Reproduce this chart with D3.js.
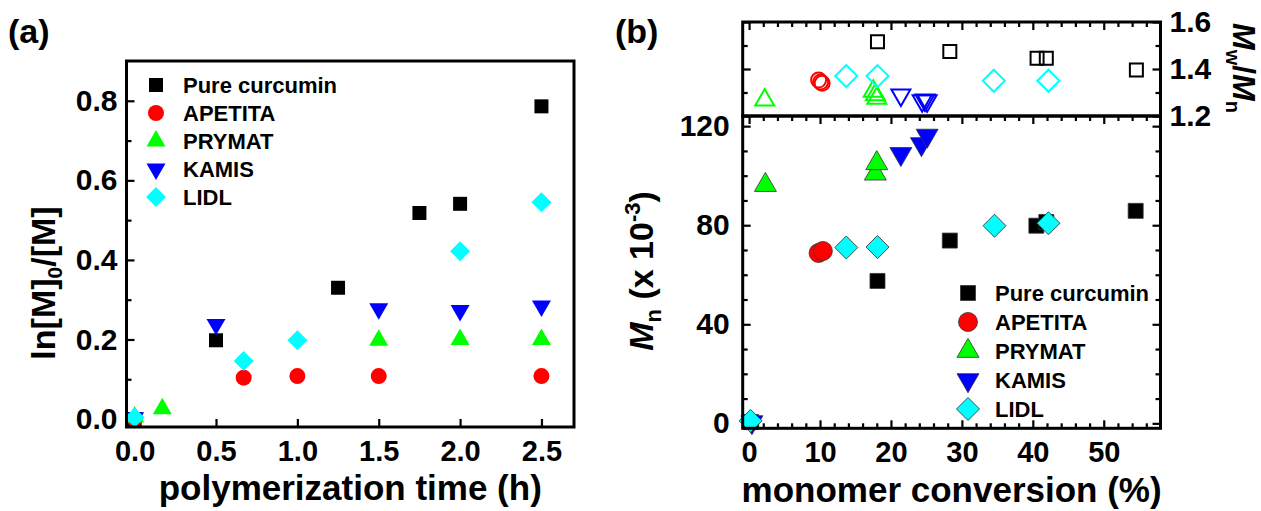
<!DOCTYPE html>
<html>
<head>
<meta charset="utf-8">
<script src="https://cdn.jsdelivr.net/npm/d3@7"></script>
<style>
  body { margin: 0; background: #fff; }
  svg { font-family: "Liberation Sans", Arial, sans-serif; font-weight: bold; }
</style>
</head>
<body>
<svg width="1261" height="511"></svg>
<script>
const names = ["Pure curcumin", "APETITA", "PRYMAT", "KAMIS", "LIDL"];
const colors = ["#000000", "#ff0000", "#00ff00", "#0000ff", "#00ffff"];
const shapes = ["square", "circle", "triangle", "down", "diamond"];

// (a) ln([M]0/[M]) vs polymerization time (h)
const timeCurcumin = [0, 0.5, 1.25, 1.75, 2.0, 2.5];
const lnCurcumin = [0.0, 0.198, 0.33, 0.518, 0.541, 0.786];
const timeApetita = [0, 0.67, 1.0, 1.5, 2.5];
const lnApetita = [0.0, 0.104, 0.108, 0.108, 0.108];
const timePrymat = [0, 0.17, 1.5, 2.0, 2.5];
const lnPrymat = [0.005, 0.026, 0.198, 0.2, 0.2];
const timeKamis = [0, 0.5, 1.5, 2.0, 2.5];
const lnKamis = [0.003, 0.238, 0.277, 0.273, 0.284];
const timeLidl = [0, 0.67, 1.0, 2.0, 2.5];
const lnLidl = [0.004, 0.146, 0.198, 0.422, 0.545];

// (b) Mn (x 10^-3) vs monomer conversion (%)
const convCurcumin = [0.3, 18.1, 28.3, 40.5, 41.9, 54.5];
const mnCurcumin = [0.5, 57.5, 73.8, 79.8, 81.3, 85.8];
const convApetita = [9.8, 10.4];
const mnApetita = [68.8, 69.6];
const convPrymat = [2.3, 17.8, 18.0];
const mnPrymat = [96.2, 100.8, 105.0];
const convKamis = [0.4, 21.4, 24.3, 25.1];
const mnKamis = [0.5, 108.8, 112.8, 116.2];
const convLidl = [0.2, 13.7, 18.1, 34.6, 42.2];
const mnLidl = [1.0, 71.0, 71.2, 79.8, 80.8];

// (b, top) Mw/Mn vs monomer conversion (%)
const pdiConvCurcumin = [18.1, 28.3, 40.6, 41.9, 54.6];
const pdiCurcumin = [1.516, 1.474, 1.446, 1.446, 1.396];
const pdiConvApetita = [9.8, 10.1, 10.3];
const pdiApetita = [1.353, 1.345, 1.339];
const pdiConvPrymat = [2.2, 17.5, 17.8, 18.0];
const pdiPrymat = [1.268, 1.305, 1.29, 1.275];
const pdiConvKamis = [21.4, 24.4, 24.8, 25.1];
const pdiKamis = [1.289, 1.265, 1.268, 1.265];
const pdiConvLidl = [13.7, 18.1, 34.5, 42.2];
const pdiLidl = [1.37, 1.37, 1.35, 1.35];

const xTicksA = [0, 0.5, 1.0, 1.5, 2.0, 2.5];
const yTicksA = [0, 0.2, 0.4, 0.6, 0.8];
const yMinorA = [0.1, 0.3, 0.5, 0.7];
const xTicksB = [0, 10, 20, 30, 40, 50];
const xMinorB = d3.range(2, 58, 2).filter(d => d % 10 !== 0);
const yTicksB = [0, 40, 80, 120];
const yMinorB = [10, 20, 30, 50, 60, 70, 90, 100, 110];
const yTicksT = [1.2, 1.4, 1.6];
const yMinorT = [1.3, 1.5];

const zip = (xs, ys) => xs.map((x, i) => ({ x, y: ys[i] }));
const dataA = [zip(timeCurcumin, lnCurcumin), zip(timeApetita, lnApetita), zip(timePrymat, lnPrymat),
  zip(timeKamis, lnKamis), zip(timeLidl, lnLidl)];
const dataB = [zip(convCurcumin, mnCurcumin), zip(convApetita, mnApetita), zip(convPrymat, mnPrymat),
  zip(convKamis, mnKamis), zip(convLidl, mnLidl)];
const dataT = [zip(pdiConvCurcumin, pdiCurcumin), zip(pdiConvApetita, pdiApetita), zip(pdiConvPrymat, pdiPrymat),
  zip(pdiConvKamis, pdiKamis), zip(pdiConvLidl, pdiLidl)];

const svg = d3.select("svg");

function symPath(shape, s) {
  if (shape === "square") return d3.symbol(d3.symbolSquare, s * s)();
  if (shape === "circle") return d3.symbol(d3.symbolCircle, Math.PI * s * s / 4)();
  if (shape === "diamond") return d3.symbol(d3.symbolSquare, s * s / 2)();
  return d3.symbol(d3.symbolTriangle, Math.sqrt(3) / 4 * s * s)();
}
function symRot(shape) {
  return shape === "down" ? " rotate(180)" : shape === "diamond" ? " rotate(45)" : "";
}
const sizeA = { square: 14, circle: 16, triangle: 19, down: 19, diamond: 20 };
const sizeB = { square: 15, circle: 19, triangle: 22, down: 22, diamond: 23 };
const sizeT = { square: 13, circle: 15, triangle: 19, down: 19, diamond: 22 };

function drawAxis(g, axis, tx, ty, fontSize) {
  const a = g.append("g").attr("transform", `translate(${tx},${ty})`).call(axis);
  a.select(".domain").remove();
  a.selectAll("line").attr("stroke", "#000").attr("stroke-width", 2.2);
  a.selectAll("text").attr("fill", "#000").style("font-size", fontSize + "px")
    .style("font-family", "'Liberation Sans', Arial, sans-serif").style("font-weight", "bold");
  return a;
}

function drawPoints(g, data, xs, ys, sizes, style) {
  data.forEach((pts, i) => {
    g.append("g").selectAll("path").data(pts).join("path")
      .attr("d", symPath(shapes[i], sizes[shapes[i]]))
      .attr("transform", d => `translate(${xs(d.x)},${ys(d.y)})` + symRot(shapes[i]))
      .attr("fill", style === "open" ? "none" : colors[i])
      .attr("stroke", style === "open" ? colors[i] : style === "outline" ? "#333" : "none")
      .attr("stroke-width", style === "open" ? 2 : 0.8);
  });
}

function legend(g, x, y0, dy, sizes, style, fs) {
  names.forEach((n, i) => {
    const y = y0 + i * dy;
    g.append("path").attr("d", symPath(shapes[i], sizes[shapes[i]]))
      .attr("transform", `translate(${x},${y})` + symRot(shapes[i]))
      .attr("fill", colors[i])
      .attr("stroke", style === "outline" ? "#333" : "none").attr("stroke-width", 0.8);
    g.append("text").attr("x", x + 27).attr("y", y + 8).style("font-size", fs + "px").text(n);
  });
}

// ---------- panel (a) ----------
const xA = d3.scaleLinear().domain([-0.05, 2.7]).range([126.5, 574]);
const yA = d3.scaleLinear().domain([-0.02, 0.9]).range([427, 61]);
const ga = svg.append("g");

drawAxis(ga, d3.axisBottom(xA).tickValues(xTicksA).tickSize(-8).tickPadding(13).tickFormat(d3.format(".1f")), 0, yA.range()[0], 29);
drawAxis(ga, d3.axisLeft(yA).tickValues(yTicksA).tickSize(-8).tickPadding(9).tickFormat(d3.format(".1f")), xA.range()[0], 0, 30);
drawAxis(ga, d3.axisLeft(yA).tickValues(yMinorA).tickSize(-5).tickFormat(""), xA.range()[0], 0, 30);

drawPoints(ga, dataA, xA, yA, sizeA, "plain");

ga.append("rect").attr("x", xA.range()[0]).attr("y", yA.range()[1])
  .attr("width", xA.range()[1] - xA.range()[0]).attr("height", yA.range()[0] - yA.range()[1])
  .attr("fill", "none").attr("stroke", "#000").attr("stroke-width", 3);

legend(ga, 156, 85, 28, sizeA, "plain", 22);

ga.append("text").attr("x", (xA.range()[0] + xA.range()[1]) / 2).attr("y", 500)
  .attr("text-anchor", "middle").style("font-size", "35px").text("polymerization time (h)");

const ya = ga.append("text").attr("transform", "translate(55,283) rotate(-90)")
  .attr("text-anchor", "middle").style("font-size", "34px");
ya.append("tspan").text("ln[M]");
ya.append("tspan").style("font-size", "21px").attr("dy", 7).text("0");
ya.append("tspan").attr("dy", -7).text("/[M]");

ga.append("text").attr("x", 8).attr("y", 43).style("font-size", "34px").text("(a)");

// ---------- panel (b) ----------
const xB = d3.scaleLinear().domain([-0.9, 58]).range([742.7, 1160.5]);
const yB = d3.scaleLinear().domain([-2, 124.1]).range([428.3, 116]);
const yT = d3.scaleLinear().domain([1.2, 1.6]).range([116, 22]);
const gb = svg.append("g");

// bottom plot ticks
drawAxis(gb, d3.axisBottom(xB).tickValues(xTicksB).tickSize(-8).tickPadding(13), 0, yB.range()[0], 29);
drawAxis(gb, d3.axisBottom(xB).tickValues(xMinorB).tickSize(-5).tickFormat(""), 0, yB.range()[0], 30);
drawAxis(gb, d3.axisTop(xB).tickValues(xTicksB).tickSize(-8).tickFormat(""), 0, yB.range()[1], 30);
drawAxis(gb, d3.axisTop(xB).tickValues(xMinorB).tickSize(-5).tickFormat(""), 0, yB.range()[1], 30);
drawAxis(gb, d3.axisLeft(yB).tickValues(yTicksB).tickSize(-8).tickPadding(13), xB.range()[0], 0, 30);
drawAxis(gb, d3.axisLeft(yB).tickValues(yMinorB).tickSize(-5).tickFormat(""), xB.range()[0], 0, 30);
drawAxis(gb, d3.axisRight(yB).tickValues(yTicksB).tickSize(-8).tickFormat(""), xB.range()[1], 0, 30);
drawAxis(gb, d3.axisRight(yB).tickValues(yMinorB).tickSize(-5).tickFormat(""), xB.range()[1], 0, 30);

// top plot ticks
drawAxis(gb, d3.axisTop(xB).tickValues(xTicksB).tickSize(-8).tickFormat(""), 0, yT.range()[1], 30);
drawAxis(gb, d3.axisTop(xB).tickValues(xMinorB).tickSize(-5).tickFormat(""), 0, yT.range()[1], 30);
drawAxis(gb, d3.axisLeft(yT).tickValues(yTicksT).tickSize(-8).tickFormat(""), xB.range()[0], 0, 30);
drawAxis(gb, d3.axisLeft(yT).tickValues(yMinorT).tickSize(-5).tickFormat(""), xB.range()[0], 0, 30);
drawAxis(gb, d3.axisRight(yT).tickValues(yTicksT).tickSize(-8).tickPadding(9).tickFormat(d3.format(".1f")), xB.range()[1], 0, 30);
drawAxis(gb, d3.axisRight(yT).tickValues(yMinorT).tickSize(-5).tickFormat(""), xB.range()[1], 0, 30);

drawPoints(gb, dataT, xB, yT, sizeT, "open");
drawPoints(gb, dataB, xB, yB, sizeB, "outline");

gb.append("rect").attr("x", xB.range()[0]).attr("y", yT.range()[1])
  .attr("width", xB.range()[1] - xB.range()[0]).attr("height", yT.range()[0] - yT.range()[1])
  .attr("fill", "none").attr("stroke", "#000").attr("stroke-width", 3);
gb.append("rect").attr("x", xB.range()[0]).attr("y", yB.range()[1])
  .attr("width", xB.range()[1] - xB.range()[0]).attr("height", yB.range()[0] - yB.range()[1])
  .attr("fill", "none").attr("stroke", "#000").attr("stroke-width", 3);

legend(gb, 968, 293, 29, sizeB, "outline", 22);

gb.append("text").attr("x", (xB.range()[0] + xB.range()[1]) / 2).attr("y", 502)
  .attr("text-anchor", "middle").style("font-size", "35px").text("monomer conversion (%)");

const yb = gb.append("text").attr("transform", "translate(653,271) rotate(-90)")
  .attr("text-anchor", "middle").style("font-size", "34px");
yb.append("tspan").style("font-style", "italic").text("M");
yb.append("tspan").style("font-size", "22px").attr("dy", 8).text("n");
yb.append("tspan").attr("dy", -8).text(" (x 10");
yb.append("tspan").style("font-size", "22px").attr("dy", -13).text("-3");
yb.append("tspan").attr("dy", 13).text(")");

const yr = gb.append("text").attr("transform", "translate(1233,23) rotate(90)")
  .attr("text-anchor", "start").style("font-size", "32px");
yr.append("tspan").style("font-style", "italic").text("M");
yr.append("tspan").style("font-size", "20px").attr("dy", 7).text("w");
yr.append("tspan").attr("dy", -7).text("/");
yr.append("tspan").style("font-style", "italic").text("M");
yr.append("tspan").style("font-size", "20px").attr("dy", 7).text("n");

gb.append("text").attr("x", 615).attr("y", 43).style("font-size", "34px").text("(b)");
</script>
</body>
</html>
